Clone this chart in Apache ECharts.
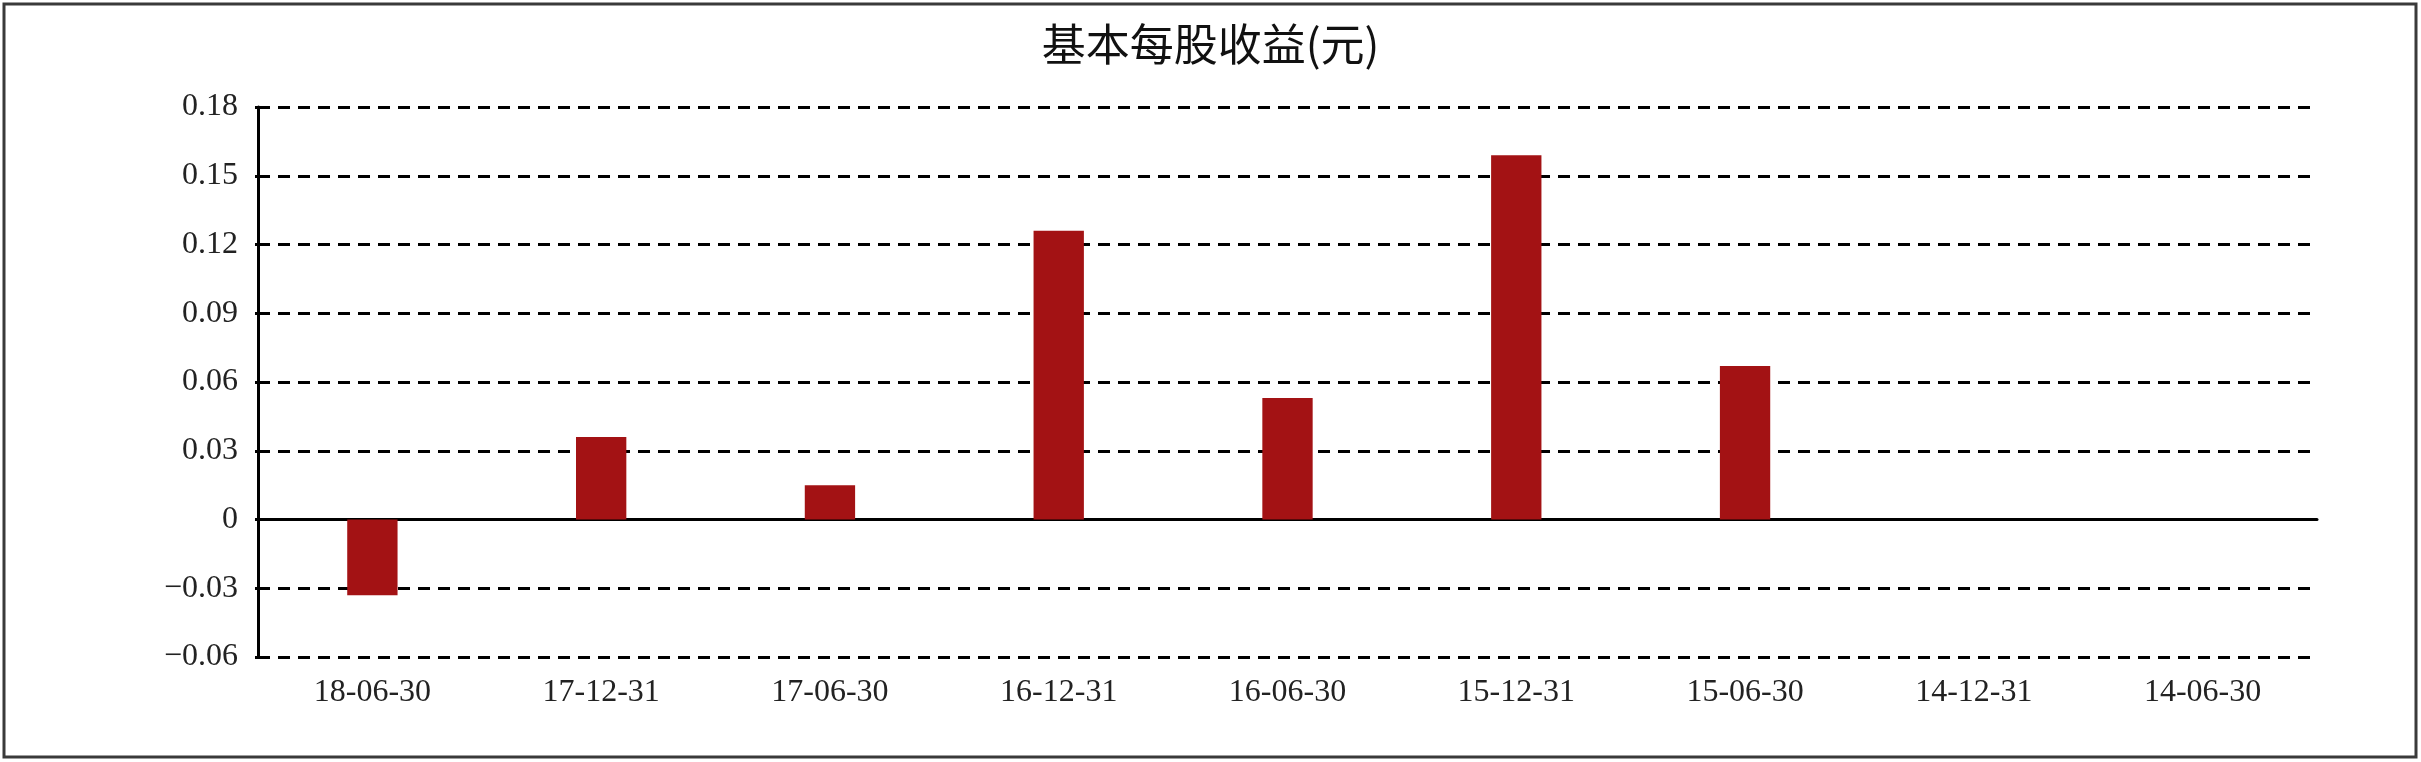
<!DOCTYPE html>
<html>
<head>
<meta charset="utf-8">
<script src="https://cdn.jsdelivr.net/npm/echarts@6/dist/echarts.min.js"></script>
<style>
	html, body { margin: 0; padding: 0; background: #fff; }
	#main { width: 2421px; height: 762px; }
</style>
</head>
<body>
<div id="main"></div>
<script>
var titleText = '基本每股收益(元)';
var categories = ['18-06-30', '17-12-31', '17-06-30', '16-12-31', '16-06-30', '15-12-31', '15-06-30', '14-12-31', '14-06-30'];
var epsValues = [-0.033, 0.036, 0.015, 0.126, 0.053, 0.159, 0.067, 0, 0];
var yTicks = [-0.06, -0.03, 0, 0.03, 0.06, 0.09, 0.12, 0.15, 0.18];

var numFont = '"Liberation Serif", "DejaVu Serif", serif';

function drawChart() {
	var myChart = echarts.init(document.getElementById('main'));
	var option = {
		backgroundColor: '#fff',
		animation: false,
		title: {
			text: titleText,
			left: 'center',
			top: 17,
			textStyle: {
				fontFamily: '"Noto Sans CJK SC", sans-serif',
				fontSize: 44,
				fontWeight: 'normal',
				color: '#111'
			}
		}, //标题
		graphic: [{
			type: 'rect',
			shape: { x: 4, y: 4, width: 2412, height: 753 },
			style: { fill: 'none', stroke: '#3a3a3a', lineWidth: 3 },
			silent: true
		}], //外框
		grid: {
			left: 258,
			right: 104,
			top: 107,
			bottom: 105
		},
		xAxis: [{
			type: 'category',
			data: categories,
			position: 'bottom',
			axisLine: { show: false, onZero: false },
			axisTick: { show: false },
			axisLabel: {
				margin: 20,
				fontFamily: numFont,
				fontSize: 32,
				color: '#222'
			}
		}, {
			type: 'category',
			data: categories,
			position: 'bottom',
			axisLine: { show: true, onZero: true, lineStyle: { color: '#000', width: 3 } },
			axisTick: { show: false },
			axisLabel: { show: false }
		}], //第二个x轴只画零线
		yAxis: {
			type: 'value',
			min: yTicks[0],
			max: yTicks[yTicks.length - 1],
			interval: 0.03,
			axisLine: { show: true, lineStyle: { color: '#000', width: 3 } },
			axisTick: { show: true, length: 3, inside: false, lineStyle: { color: '#000', width: 3 } },
			axisLabel: {
				margin: 20,
				fontFamily: numFont,
				fontSize: 32,
				color: '#222',
				formatter: function (v) {
					var s = String(Math.round(v * 100) / 100);
					return s.replace('-', '−');
				}
			},
			splitLine: {
				show: true,
				lineStyle: { color: '#000', width: 3, type: [12, 8] }
			}
		},
		series: [{
			name: titleText,
			type: 'bar',
			xAxisIndex: 0,
			barWidth: '22%',
			data: epsValues,
			itemStyle: { color: '#A31214' } //柱子颜色
		}]
	};
	myChart.setOption(option);
}
drawChart();
</script>
</body>
</html>
